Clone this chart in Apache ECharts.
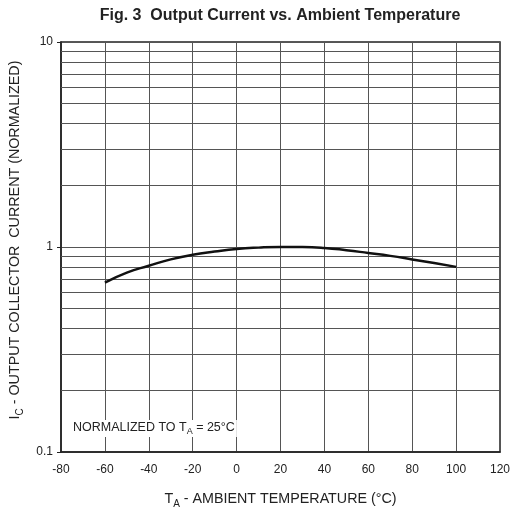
<!DOCTYPE html>
<html><head><meta charset="utf-8">
<script src="https://cdn.jsdelivr.net/npm/echarts@6/dist/echarts.min.js"></script>
<style>html,body{margin:0;padding:0;background:#fff}#c{width:512px;height:513px}</style>
</head><body><div id="c"></div>
<script>
var temps = [-60, -50, -40, -30, -20, -10, 0, 10, 20, 25, 30, 40, 50, 60, 70, 80, 90, 100];
var current = [0.67, 0.75, 0.81, 0.87, 0.917, 0.95, 0.978, 0.993, 1.0, 1.0, 1.0, 0.99, 0.965, 0.935, 0.905, 0.87, 0.835, 0.80];
var xTicks = [-80, -60, -40, -20, 0, 20, 40, 60, 80, 100, 120];
var yTicks = [0.1, 1, 10];
var minorGrid = [0.2, 0.3, 0.4, 0.5, 0.6, 0.7, 0.8, 0.9, 2, 3, 4, 5, 6, 7, 8, 9];

var font = 'Liberation Sans, Arial, sans-serif';
var chart = echarts.init(document.getElementById('c'));
chart.setOption({
  animation: false,
  backgroundColor: '#fff',
  title: {
    text: 'Fig. 3  Output Current vs. Ambient Temperature',
    left: 275, top: 3, textAlign: 'center',
    textStyle: {fontFamily: font, fontSize: 16, fontWeight: 'bold', color: '#222'}
  },
  grid: {left: 61, right: 12, top: 42, bottom: 61, show: true, borderColor: '#222', borderWidth: 1.5,
    backgroundColor: 'transparent', containLabel: false, outerBoundsMode: 'none'},
  xAxis: {
    type: 'value', min: -80, max: 120, interval: 20,
    name: '{t|T}{s|A}{t| - AMBIENT TEMPERATURE (°C)}',
    nameLocation: 'middle', nameGap: 40,
    nameTextStyle: {rich: {
      t: {fontFamily: font, fontSize: 14.3, color: '#222', verticalAlign: 'top', lineHeight: 17},
      s: {fontFamily: font, fontSize: 10, color: '#222', verticalAlign: 'bottom', lineHeight: 17, padding: [8, 0, 0, 0]}
    }},
    axisLine: {show: true, onZero: false, lineStyle: {color: '#222', width: 1.5}},
    axisTick: {show: false},
    axisLabel: {fontFamily: font, fontSize: 12, color: '#222', margin: 12,
      formatter: function (v) { return xTicks.indexOf(v) >= 0 ? String(v) : ''; }},
    splitLine: {show: true, lineStyle: {color: '#555', width: 1}}
  },
  yAxis: {
    type: 'log', logBase: 10, min: 0.1, max: 10,
    name: '{t|I}{s|C}{t| - OUTPUT COLLECTOR  CURRENT (NORMALIZED)}',
    nameLocation: 'middle', nameGap: 33, nameRotate: 90,
    nameTextStyle: {padding: [0, 0, 0, 14], rich: {
      t: {fontFamily: font, fontSize: 14.3, color: '#222', verticalAlign: 'top', lineHeight: 17},
      s: {fontFamily: font, fontSize: 10, color: '#222', verticalAlign: 'bottom', lineHeight: 17, padding: [8, 0, 0, 0]}
    }},
    axisLine: {show: true, onZero: false, lineStyle: {color: '#222', width: 1.5}},
    axisTick: {show: true, inside: false, length: 4, lineStyle: {color: '#222'}},
    axisLabel: {fontFamily: font, fontSize: 12, color: '#222', margin: 8,
      formatter: function (v) { var r = yTicks.filter(function (t) { return Math.abs(t - v) < 1e-9; }); return r.length ? String(r[0]) : ''; }},
    splitLine: {show: true, lineStyle: {color: '#555', width: 1}}
  },
  series: [{
    type: 'line', smooth: true, symbol: 'none',
    data: temps.map(function (t, i) { return [t, current[i]]; }),
    lineStyle: {color: '#111', width: 2.5},
    z: 5,
    markLine: {
      silent: true, symbol: 'none', label: {show: false},
      lineStyle: {color: '#555', width: 1, type: 'solid'},
      data: minorGrid.map(function (v) { return {yAxis: v}; }),
      z: 1
    }
  }],
  graphic: [{
    type: 'text', left: 71, top: 420, z: 10,
    style: {
      text: '{t|NORMALIZED TO T}{s|A}{t| = 25°C}',
      backgroundColor: '#fff', padding: [1, 2, 1, 2],
      rich: {
        t: {fontFamily: font, fontSize: 12.5, fill: '#222', verticalAlign: 'top', lineHeight: 15},
        s: {fontFamily: font, fontSize: 9, fill: '#222', verticalAlign: 'bottom', lineHeight: 15, padding: [7, 0, 0, 0]}
      }
    }
  }]
});
</script></body></html>
